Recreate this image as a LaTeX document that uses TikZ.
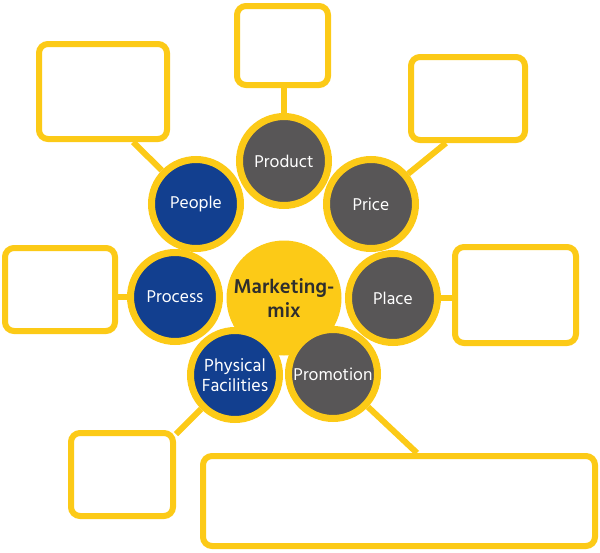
\documentclass[tikz,border=0pt]{standalone}
\usepackage{fontspec}
\setmainfont{Hind Madurai}
\usepackage{tikz}
\usetikzlibrary{backgrounds}
\definecolor{sunflower}{HTML}{FCCA17}
\definecolor{slate}{HTML}{585657}
\definecolor{cobalt}{HTML}{123F8F}
\definecolor{ink}{HTML}{2E2E2E}

\begin{document}
\begin{tikzpicture}[
    x=1pt, y=-1pt,
    hub/.style={circle, fill=sunflower, minimum size=115pt, inner sep=0pt, align=center, font=\fontsize{20.5}{24}\selectfont\bfseries\color{ink}},
    petal/.style={circle, draw=sunflower, line width=7pt, minimum size=89pt, inner sep=0pt, align=center, text=white, font=\fontsize{17.5}{20}\selectfont},
    greypetal/.style={petal, fill=slate},
    bluepetal/.style={petal, fill=cobalt},
    notebox/.style={rectangle, rounded corners=9pt, draw=sunflower, line width=6pt, fill=white, inner sep=0pt},
    spoke/.style={draw=sunflower, line width=6pt},
  ]
  \useasboundingbox (0,0) rectangle (600,552);

  \node[hub] (mix) at (284,298) {Marketing-\\mix};
  \node[greypetal] (product) at (284,161) {Product};
  \node[greypetal] (price) at (371,204) {Price};
  \node[greypetal] (place) at (393,298) {Place};
  \node[greypetal] (promotion) at (333,374) {Promotion};
  \node[bluepetal] (people) at (196,204) {People};
  \node[bluepetal] (process) at (175,297) {Process};
  \node[bluepetal, font=\fontsize{18}{19.5}\selectfont] (physical) at (235,375) {Physical\\Facilities};

  \node[notebox, minimum width=91pt, minimum height=79pt] (productbox) at (282.5,45.5) {};
  \node[notebox, minimum width=114pt, minimum height=83pt] (pricebox) at (468,98.5) {};
  \node[notebox, minimum width=128pt, minimum height=95pt] (peoplebox) at (103,91.5) {};
  \node[notebox, minimum width=110pt, minimum height=83pt] (processbox) at (60,289.5) {};
  \node[notebox, minimum width=121pt, minimum height=96pt] (placebox) at (515.5,295) {};
  \node[notebox, minimum width=102pt, minimum height=83pt] (physicalbox) at (122,474.5) {};
  \node[notebox, minimum width=392pt, minimum height=90pt] (promotionbox) at (399,501) {};

  \begin{scope}[on background layer]
    \draw[spoke] (product) -- (product |- productbox.south);
    \draw[spoke] (price) -- ([xshift=38pt]pricebox.south west);
    \draw[spoke] (people) -- ([xshift=97pt]peoplebox.south west);
    \draw[spoke] (process) -- (process -| processbox.east);
    \draw[spoke] (place) -- (place -| placebox.west);
    \draw[spoke] (physical) -- ([yshift=-4pt]physicalbox.north east);
    \draw[spoke] (promotion) -- ([xshift=217pt]promotionbox.north west);
  \end{scope}
\end{tikzpicture}
\end{document}
